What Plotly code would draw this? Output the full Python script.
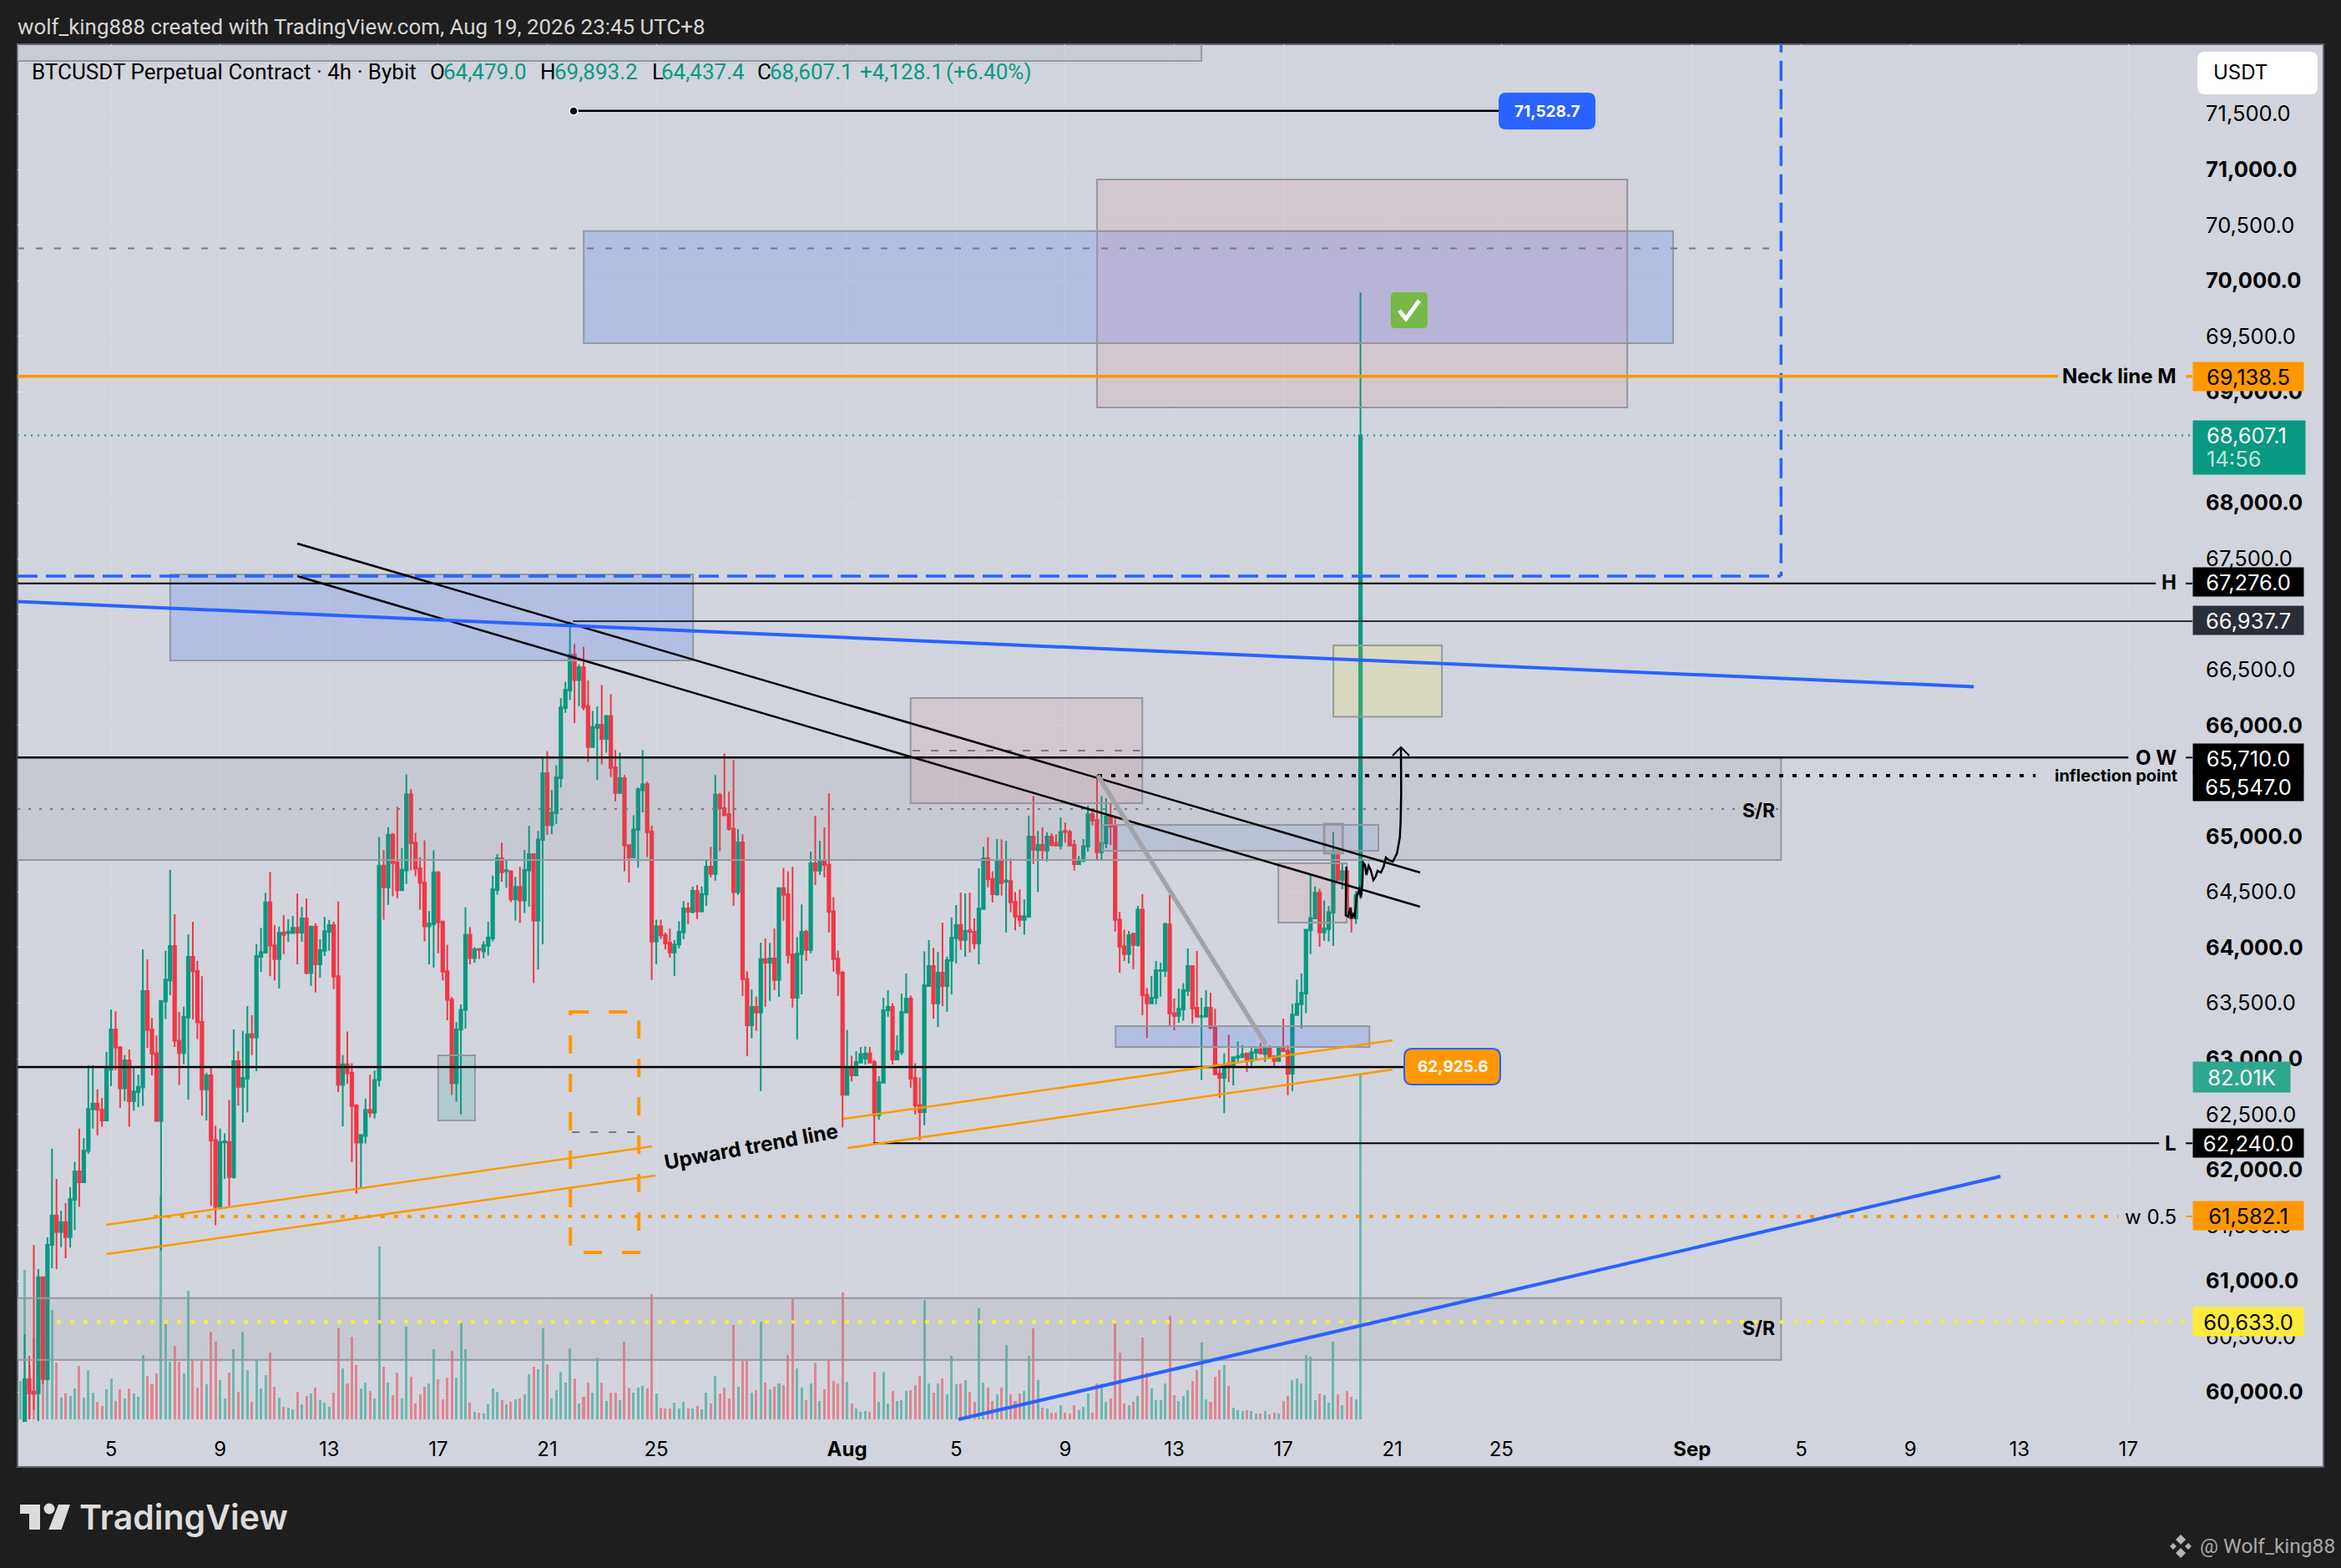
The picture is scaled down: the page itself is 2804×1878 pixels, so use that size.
import pandas as pd
import plotly.graph_objects as go

# BTCUSDT 4h candles, first bar is Jul 1 16:00
opens = [None,59741,60119,60005,59991,61034,60119,61326,61590,61443,61530,61396,61731,61986,61889,62171,62546,62597,62543,62446,
62902,63264,63103,62734,62985,62620,62700,62741,63609,63264,63049,62442,63515,63706,64015,63163,63052,63371,63918,63790,
63331,62724,62851,62271,61668,62248,62251,61936,62979,62747,62821,63220,63193,63918,63954,64407,64021,63897,64135,64132,
64132,64179,64135,64263,63773,64189,63850,63971,64142,64203,63743,62767,62950,62873,62581,62246,62306,62541,62514,62809,
64737,64543,65015,64767,64516,64694,65381,64945,64714,64586,64191,64211,64677,64234,63788,63533,62782,63262,63440,64117,
63906,63989,63966,64016,64083,64519,64804,64687,64687,64435,64546,64425,64694,64841,64244,64968,65569,65103,65210,65525,
66155,66313,66635,66407,66521,66172,65804,65978,66005,65877,66082,65622,65391,65525,64922,64811,65059,65415,65471,65046,
64057,64191,64112,64045,63957,64029,64137,64353,64322,64510,64327,64478,64728,64663,65374,65254,65201,65071,64500,64946,
63719,63301,63466,63416,63897,63864,63902,63709,64535,64480,63939,63549,63942,64142,63979,64758,64693,64773,64748,64327,
63902,63774,62677,62918,62850,62965,63000,63048,62970,62492,62785,63436,63466,62993,63060,63416,63541,62828,62585,62520,
63654,63834,63499,63774,63654,63882,64085,64202,64070,64155,64142,64037,64348,64803,64618,64480,64788,64593,64598,64413,
64283,64250,64277,64999,64876,64923,64871,64999,64943,64919,65051,65041,64923,64751,64783,64908,65199,65149,64858,64938,
65181,65094,64252,64012,63942,64125,64024,64342,63576,63499,63549,63792,63792,64210,63411,63386,63444,63611,63834,63459,
63379,63379,63459,63286,62865,62828,62948,62935,63010,63015,63048,62980,63055,63085,63043,63098,63023,62980,63106,63073,
62865,63393,63491,63586,64155,64262,64493,64137,64167,64315,64836,64608,64688,64287,64262,64479]
highs = [None,60522,60327,61326,61108,61035,61393,62191,61919,61634,61701,61845,62073,62372,62288,62942,62942,62724,62647,63063,
63445,63428,63113,63032,63083,62918,62858,63985,63894,63368,63210,63525,63971,64699,64300,63421,63468,64119,64233,63881,
63743,62875,62918,62399,62372,62328,62627,63264,63069,63250,63472,63391,64032,64179,64494,64682,64203,64189,64293,64256,
64286,64487,64367,64444,64189,64219,64075,64276,64249,64233,64414,63032,63245,62960,62591,62323,62642,62856,62893,64995,
64878,65083,65032,65267,64895,65559,65425,65032,64814,64965,64328,64875,64687,64244,64026,63554,63329,63490,64362,64184,
64006,63989,64057,64234,64647,64841,64945,64784,64697,64637,64727,64878,65096,64841,65049,65710,65767,65418,65639,66246,
66390,66933,66732,66548,66705,66404,66129,66169,66363,66095,66280,65777,65753,65552,64922,65190,65441,65777,65492,65099,
64251,64251,64137,64170,64067,64237,64418,64405,64548,64563,64550,64793,64906,65552,65394,65747,65402,65690,65064,65019,
63787,63624,63561,64045,64082,64042,64170,64540,64718,64688,64726,64095,64388,64162,64863,65184,64961,65081,65387,64455,
63974,63792,63261,63028,63068,63106,63111,63106,62990,62843,63549,63616,63501,63211,63586,63767,63569,62960,62830,63967,
64067,64000,63962,64225,63919,64270,64383,64495,64488,64495,64262,64713,64906,64994,64688,64976,64974,64961,64801,64500,
64523,64433,65189,65364,65049,65081,65039,65029,65019,65171,65126,65059,64968,64826,64976,65277,65239,65552,65364,65344,
65302,65189,64323,64162,64150,64125,64375,64480,63636,63744,63879,63867,64225,64475,63541,63631,63681,63992,63834,63969,
63549,63616,63594,63449,62948,63048,63216,62948,63156,63123,63048,63098,63085,63141,63116,63123,63023,63106,63361,63122,
63494,63712,63767,64162,64663,64550,64530,64425,64375,65039,64863,64751,64688,64363,64508,69893.2]
lows = [None,59741,59756,59840,59741,60075,60105,61115,61108,61305,61205,61302,61460,61668,61889,62147,62372,62311,62388,62446,
62754,62895,62560,62620,62388,62533,62566,62576,63099,62851,62442,61275,63358,63572,63106,62764,62952,62633,63354,63177,
62489,62446,61678,61503,61661,61922,61661,61922,62580,62429,62519,63032,62888,63783,63954,63743,63706,63633,63941,64052,
64125,63850,64052,63760,63656,63596,63730,63924,63971,63626,62700,62392,62776,62072,61787,61844,62239,62474,62464,62752,
64251,64385,64462,64445,64516,64573,64694,64643,64342,64057,63849,63822,63949,63705,63346,62675,62615,62501,63272,63849,
63865,63896,63906,63929,64057,64476,64593,64539,64409,64244,64224,64311,64368,63681,63802,64030,65016,65022,65113,65441,
66112,66229,66021,66172,66135,65669,65804,65508,65649,65753,65535,65317,65391,64687,64586,64811,64720,65217,64814,63708,
63849,64077,63985,63912,63746,63992,64075,64210,64307,64257,64317,64378,64630,64603,64868,65184,65051,64378,64475,63566,
63023,63183,63251,62710,63466,63521,63616,63556,64242,63857,63461,63173,63579,63882,63949,64563,64655,64630,64137,63784,
63566,62384,62677,62797,62850,62960,62948,62960,62234,62452,62785,63378,62948,62993,63035,63411,62740,62497,62269,62402,
63654,63361,63286,63474,63424,63579,63857,63979,63917,63957,63987,63849,64348,64543,64405,64463,64468,64137,64317,64155,
64187,64117,64277,64751,64500,64798,64776,64913,64913,64883,64945,64919,64693,64743,64768,64863,65100,64796,64788,64893,
64923,64145,63774,63879,63857,63807,64007,63393,63186,63499,63491,63561,63737,63286,63256,63323,63343,63566,63318,63379,
62810,63379,63266,62860,62647,62510,62790,62760,62960,63015,62880,62915,62998,63048,62973,62998,62935,62980,63068,62672,
62710,63393,63273,63411,63942,64262,64007,64062,64055,64017,64608,64525,64287,64137,64212,64437.4]
closes = [None,60116,59991,59985,61034,60119,61326,61590,61443,61530,61396,61738,61986,61889,62174,62549,62597,62540,62446,62908,
63264,63103,62734,62985,62620,62707,62747,63609,63260,63046,62442,63519,63713,64015,63163,63052,63378,63918,63787,63327,
62724,62851,62264,61668,62251,62258,61936,62979,62747,62828,63220,63193,63924,63958,64407,64018,63897,64135,64115,64142,
64179,64135,64263,63773,64189,63850,63978,64149,64203,63740,62767,62950,62869,62575,62246,62313,62541,62514,62809,64737,
64543,65015,64761,64516,64700,65381,64938,64710,64583,64191,64217,64677,64228,63782,63530,62782,63265,63440,64117,63906,
63983,63979,64023,64090,64526,64804,64677,64697,64435,64546,64425,64700,64841,64244,64972,65569,65103,65217,65532,66162,
66320,66635,66407,66521,66162,65804,65985,66005,65877,66082,65616,65391,65525,64918,64811,65062,65425,65471,65039,64057,
64191,64110,64037,63957,64029,64142,64353,64322,64510,64327,64483,64728,64663,65377,65251,65191,65069,64500,64946,63716,
63301,63466,63416,63897,63864,63902,63709,64535,64475,63932,63549,63947,64142,63979,64758,64693,64773,64743,64322,63897,
63769,62677,62918,62850,62970,63043,63048,62965,62492,62790,63436,63466,62993,63068,63421,63541,62820,62580,62520,63661,
63834,63499,63774,63654,63887,64090,64202,64070,64150,64142,64037,64353,64803,64618,64480,64788,64580,64605,64408,64280,
64250,64283,64999,64881,64923,64876,64999,64921,64919,65041,65041,64919,64751,64791,64913,65199,65144,64858,64943,65181,
65089,64250,64007,63942,64112,64024,64342,63574,63499,63549,63797,63797,64212,63409,63386,63449,63616,63834,63454,63379,
63384,63459,63281,62860,62828,62948,62935,63015,63023,63040,62980,63060,63085,63048,63098,63015,62980,63106,63068,62865,
63398,63494,63594,64162,64267,64493,64137,64170,64320,64836,64608,64688,64287,64262,64473,68607.1]

# volume in thousands, same bars
volumes = [9.2,35.5,13,19.3,13,9.8,10,26,13.4,5.2,6.2,5.5,7.4,12.7,5.2,11.8,6.4,4.2,3.2,7.1,
9.8,4.4,7.1,5,7.4,6.2,5.4,15.2,10.3,8.4,11,53.3,22.6,13.6,17.4,13.6,11,30.5,14.3,7.6,
13.8,8.4,20.8,18.4,9.4,5,11.1,16.6,6.6,20.8,11.8,4.2,14,7.4,10.5,15.8,7.8,5.2,3,2.7,
2.4,6.6,3.6,5.5,6.2,7.6,4.5,4,3,6.3,21.6,12.1,8.6,19.7,12.9,7.3,8.7,6.8,4.9,41,
12.5,8.7,5.8,11.1,4.9,22.1,10.1,3.7,6,7.7,8.5,16.7,9.5,4.7,9.9,16.3,9.9,23.1,16.7,3.9,
1.7,1.5,1.3,3.5,7.3,6.5,4.5,3.5,4.1,4.7,4.9,5.9,10.7,12.5,11.9,21.7,13.1,4.9,6.9,11.3,
8.7,16.9,9.7,3.7,5.3,8.7,6.3,14.7,8.7,4.3,6.3,6.3,4.5,18.5,7.5,6.3,7.5,7.9,7.3,29.7,
6.1,2.7,2.5,2.5,3.9,2.5,4.1,2.5,2.5,3.1,2.3,6.3,3.7,10.3,6.1,7.5,4.9,22.5,7.7,13.9,
13.9,6.3,6.9,23.3,8.7,7.1,7.7,8.5,8.1,15.3,28.7,12.1,7.5,4.5,8.5,13.5,4.3,7.1,14.1,9.1,
8.5,30.1,8.9,3.7,2.5,1.7,1.9,1.7,11.3,4.1,11.3,3.7,6.7,4.3,4.5,6.7,6.9,8.1,10.3,28.3,
8.5,6.3,8.5,9.7,5.9,15.1,8.3,8.5,9.3,6.5,4.1,26.5,8.7,7.5,4.3,5.9,7.5,17.7,5.9,4.3,
6.1,6.7,15.1,21.7,9.3,2.7,2.5,1.5,1.5,3.3,1.5,1.3,3.3,2.1,2.9,6.1,1.5,8.5,8.5,4.1,
4.9,23.1,15.9,3.7,3.3,4.1,5.5,19.5,11.1,7.3,4.5,4.5,8.5,24.7,5.7,4.3,5.5,6.9,9.1,11.7,
18.3,4.7,4.1,10.1,11.7,12.9,7.9,2.7,2.1,1.9,2.1,1.9,1.3,1.3,1.9,1.1,1.5,1.3,4.3,5.5,
9.3,9.7,8.5,15.3,14.9,4.5,6.1,5.7,3.9,18.5,5.9,3.3,6.7,5.3,4.7,82.01]

# price scale and time scale, 65,500 and 68,500 sit fully behind price tags
price_ticks = [60000,60500,61000,61500,62000,62500,63000,63500,64000,64500,65000,66000,66500,67000,67500,68000,69000,69500,70000,70500,71000,71500]
time_ticks = ["2026-07-05","2026-07-09","2026-07-13","2026-07-17","2026-07-21","2026-07-25","2026-08-01","2026-08-05","2026-08-09","2026-08-13","2026-08-17","2026-08-21","2026-08-25","2026-09-01","2026-09-05","2026-09-09","2026-09-13","2026-09-17"]
time_labels = ["5","9","13","17","21","25","<b>Aug</b>","5","9","13","17","21","25","<b>Sep</b>","5","9","13","17"]

# drawings: [start day, end day, price a, price b], day 0 = Jul 1
blue_zones = [[21.34,61.30,70446,69438],[6.17,25.35,67357,66584],[40.85,50.16,63294,63106]]
pink_zones = [[40.17,59.62,70910,68859],[33.33,41.83,66246,65299],[46.82,49.33,64758,64225]]
sr_zones = [[0.57,65.26,65710,64788],[0.57,65.26,60848,60292]]
trend_black = [[10.83,52.02,67635,64676],[10.83,52.02,67342,64368]]
trend_orange = [[3.82,23.85,61506,62212],[3.84,23.97,61243,61949],[30.86,51.01,62460,63166],[31.01,51.01,62197,62903]]
trend_blue = [[0.57,72.33,67114,66347],[35.09,73.31,59756,61942]]

BG = "#d1d4dc"
DARK = "#1e1e1e"
GREEN = "#089981"
RED = "#f23645"
BLUE = "#2962ff"
ORANGE = "#ff9800"
BORDER = "#9598a1"
FONT = "Inter"

# plot area inside the 2804x1878 page
L, R, T, B = 21, 2626, 53, 1710


def day(d):
    return (pd.Timestamp("2026-07-01") + pd.Timedelta(days=d)).strftime("%Y-%m-%d %H:%M")


def px(x):
    return (x - L) / (R - L)


def py(y):
    return (B - y) / (B - T)


def seg(d0, d1, p0, p1, color="black", width=2, dash="solid"):
    return dict(type="line", xref="x", yref="y", x0=day(d0), x1=day(d1), y0=p0, y1=p1,
                line=dict(color=color, width=width, dash=dash))


def zone(z, fill, border=BORDER, width=2):
    return dict(type="rect", xref="x", yref="y", x0=day(z[0]), x1=day(z[1]), y0=z[2], y1=z[3],
                fillcolor=fill, line=dict(color=border, width=width))


def rounded(x0, y0, x1, y1, r, fill, border=None, width=0):
    a, b, c, d = px(x0), px(x1), py(y0), py(y1)
    rx, ry = r / (R - L), r / (B - T)
    path = (f"M {a+rx} {c} L {b-rx} {c} Q {b} {c} {b} {c-ry} L {b} {d+ry} Q {b} {d} {b-rx} {d} "
            f"L {a+rx} {d} Q {a} {d} {a} {d+ry} L {a} {c-ry} Q {a} {c} {a+rx} {c} Z")
    return dict(type="path", xref="paper", yref="paper", path=path, fillcolor=fill,
                line=dict(color=border or fill, width=width))


def polyline(points, color="black", width=2, fill=None):
    path = "M " + " L ".join(f"{px(x)} {py(y)}" for x, y in points)
    if fill:
        path += " Z"
    return dict(type="path", xref="paper", yref="paper", path=path, fillcolor=fill,
                line=dict(color=color, width=width))


def text(x, y, s, size=24, color="black", anchor="left", family=FONT, angle=0, weight=None):
    return dict(xref="paper", yref="paper", x=px(x), y=py(y), text=s, showarrow=False, xanchor=anchor,
                yanchor="middle", textangle=angle, font=dict(size=size, color=color, family=family, weight=weight))


def badge(y, label, fill, color="white", w=132):
    return dict(xref="paper", yref="paper", x=1, y=py(y), text=label, showarrow=False, xanchor="left", yanchor="middle",
                width=w, height=34, bgcolor=fill, align="center", borderpad=0, font=dict(size=25.5, color=color, family=FONT))


dates = pd.date_range("2026-07-01 16:00", periods=len(closes), freq="4h")
vol_colors = ["rgba(8,153,129,0.5)" if (c is None or c >= o) else "rgba(242,54,69,0.5)" for o, c in zip(opens, closes)]

fig = go.Figure()
fig.add_trace(go.Bar(x=dates, y=volumes, yaxis="y2", width=8000000, marker=dict(color=vol_colors, line=dict(width=0)), hoverinfo="skip"))
fig.add_trace(go.Candlestick(
    x=dates, open=opens, high=highs, low=lows, close=closes, yaxis="y", hoverinfo="skip",
    increasing=dict(line=dict(color=GREEN, width=2), fillcolor=GREEN),
    decreasing=dict(line=dict(color=RED, width=2), fillcolor=RED),
))

shapes = []

# --- panel pieces outside the plot area ---
shapes.append(dict(type="rect", xref="paper", yref="paper", x0=px(R), x1=px(2783), y0=py(53), y1=py(1757), fillcolor=BG, line=dict(width=0), layer="below"))
shapes.append(dict(type="rect", xref="paper", yref="paper", x0=px(21), x1=px(2783), y0=py(1710), y1=py(1757), fillcolor=BG, line=dict(width=0), layer="below"))
shapes.append(dict(type="rect", xref="paper", yref="paper", x0=px(21), x1=px(2783), y0=py(53), y1=py(1757), line=dict(color="#62656e", width=2), layer="below"))

# --- zones ---
shapes.append(zone([0.57, 44.0, 73000, 71976], "rgba(120,123,134,0.1)"))
for z in sr_zones:
    shapes.append(zone(z, "rgba(120,123,134,0.12)"))
for z in blue_zones:
    shapes.append(zone(z, "rgba(41,98,255,0.18)"))
for z in pink_zones:
    shapes.append(zone(z, "rgba(242,54,69,0.08)"))
shapes.append(zone([16.0, 17.35, 63031, 62445], "rgba(8,153,129,0.16)"))
shapes.append(zone([40.36, 50.49, 65104, 64871], "rgba(41,98,255,0.08)"))
shapes.append(zone([48.50, 49.18, 65111, 64849], "rgba(242,54,69,0.06)", width=3))
shapes.append(zone([48.84, 52.82, 66719, 66077], "rgba(255,235,59,0.16)"))
shapes.append(dict(type="rect", xref="x", yref="y", x0=day(20.85), x1=day(23.36), y0=63421, y1=61258,
                   line=dict(color=ORANGE, width=4, dash="22px,24px")))

# --- dashed and dotted levels ---
shapes.append(seg(0.57, 65.26, 70290, 70290, "#787b86", 2, "8px,14px"))
shapes.append(seg(0.57, 65.26, 65247, 65247, "#787b86", 2, "3px,10px"))
shapes.append(seg(33.4, 41.75, 65772, 65772, "#787b86", 2, "9px,13px"))
shapes.append(seg(20.91, 23.26, 62340, 62340, "#787b86", 2, "9px,13px"))
shapes.append(seg(0.57, 80.35, 68607.1, 68607.1, GREEN, 2, "2px,6px"))
shapes.append(seg(5.56, 77.63, 61582.1, 61582.1, ORANGE, 4, "5px,11px"))
shapes.append(seg(2.01, 80.33, 60633, 60633, "#ffeb3b", 4, "5px,11px"))
shapes.append(seg(40.2, 74.6, 65547, 65547, "black", 4, "5px,11px"))
shapes.append(seg(0.57, 65.26, 67342, 67342, BLUE, 3.5, "24px,10px"))
shapes.append(seg(65.26, 65.26, 73000, 67342, BLUE, 3.5, "24px,10px"))

# --- solid levels, each with the short stub next to the scale ---
shapes.append(seg(0.57, 75.42, 69138.5, 69138.5, ORANGE, 3.5))
shapes.append(seg(80.11, 80.35, 69138.5, 69138.5, ORANGE, 3.5))
shapes.append(seg(0.57, 79.01, 67276, 67276, "black", 2))
shapes.append(seg(80.11, 80.35, 67276, 67276, "black", 2))
shapes.append(seg(20.94, 80.35, 66937.7, 66937.7, "#2a2e39", 2))
shapes.append(seg(0.57, 78.0, 65710, 65710, "black", 2.5))
shapes.append(seg(80.11, 80.35, 65710, 65710, "black", 2))
shapes.append(seg(0.57, 51.47, 62925.6, 62925.6, "black", 2.5))
shapes.append(seg(31.96, 79.13, 62240, 62240, "black", 2))
shapes.append(seg(80.11, 80.35, 62240, 62240, "black", 2))
shapes.append(seg(80.11, 80.35, 61582.1, 61582.1, ORANGE, 2))
shapes.append(seg(20.94, 54.93, 71528.7, 71528.7, "black", 2.5))

# --- trend lines ---
for t in trend_black:
    shapes.append(seg(t[0], t[1], t[2], t[3], "black", 2.5))
for t in trend_orange:
    shapes.append(seg(t[0], t[1], t[2], t[3], ORANGE, 2.5))
for t in trend_blue:
    shapes.append(seg(t[0], t[1], t[2], t[3], BLUE, 4))
shapes.append(seg(40.2, 46.36, 65547, 63129, "#a3a3a8", 5.5))

# hand drawn path and arrow near the last bars
squiggle = [(1612.7, 1038), (1612, 1096), (1615, 1098), (1617.3, 1087), (1618.7, 1100), (1620.7, 1095), (1622.7, 1098),
            (1625, 1073), (1628.3, 1065), (1630, 1075), (1631.7, 1060), (1632.7, 1033), (1635, 1036), (1636.7, 1048),
            (1639.3, 1037), (1641.7, 1042), (1645, 1054), (1647.7, 1050), (1650, 1043), (1654, 1045), (1657.3, 1038),
            (1660, 1027), (1663.3, 1030), (1668.3, 1032), (1673.3, 1022), (1676.7, 1003), (1677.7, 983), (1678.3, 950), (1678, 895)]
shapes.append(polyline(squiggle, "black", 2.5))
shapes.append(polyline([(1668, 905), (1678, 895), (1688, 905)], "black", 2))

# dot at the start of the price line and the two floating price tags
shapes.append(dict(type="circle", xref="paper", yref="paper", x0=px(682), x1=px(692), y0=py(128), y1=py(138), fillcolor="black", line=dict(color="white", width=1.5)))
shapes.append(rounded(1795, 111, 1911, 155, 9, BLUE))
shapes.append(rounded(1682, 1256, 1797, 1299, 10, ORANGE, BLUE, 2))

# green check box
shapes.append(rounded(1666, 350, 1710, 393, 5, "#76b947"))
shapes.append(polyline([(1676, 372), (1684, 382), (1700, 360)], "white", 5))

# USDT button
shapes.append(rounded(2632, 62, 2776, 113, 9, "white"))

# TradingView logo
shapes.append(polyline([(24, 1802), (48, 1802), (48, 1832), (35, 1832), (35, 1813), (24, 1813)], "#dcdcdc", 0, "#dcdcdc"))
shapes.append(dict(type="circle", xref="paper", yref="paper", x0=px(52.5), x1=px(65.5), y0=py(1800.5), y1=py(1813.5), fillcolor="#dcdcdc", line=dict(width=0)))
shapes.append(polyline([(70, 1802), (84, 1802), (73.6, 1832), (58.2, 1832)], "#dcdcdc", 0, "#dcdcdc"))

# small diamond mark in front of the watermark
for cx, cy, r in [(2612, 1844, 6), (2603, 1852, 4), (2621, 1852, 4), (2612, 1860, 6)]:
    shapes.append(polyline([(cx - r, cy), (cx, cy - r), (cx + r, cy), (cx, cy + r)], "#b5b5b5", 0, "#b5b5b5"))

annotations = [
    text(19, 32, "wolf_king888 created with TradingView.com, Aug 19, 2026 23:45 UTC+8", 25.9, "#d6d6d6", family="Roboto"),
    text(93, 1817, "TradingView", 41, "#dcdcdc", weight=600),
    text(2633, 1852, "@ Wolf_king88", 24.5, "#a9a9a9", family="Roboto"),
    text(2649, 87, "USDT", 24),
    text(36, 86, "BTCUSDT Perpetual Contract · 4h · Bybit", 26, family="Roboto"),
    text(1853, 133, "<b>71,528.7</b>", 19, "white", "center"),
    text(1740, 1277, "<b>62,925.6</b>", 19, "white", "center"),
    text(899, 1373, "<b>Upward trend line</b>", 24.5, angle=-10.5, anchor="center"),
    text(2609, 451, "<b>Neck line M</b>", 24, anchor="right"),
    text(2609, 697, "<b>H</b>", 24, anchor="right"),
    text(2609, 907, "<b>O W</b>", 24, anchor="right"),
    text(2610, 929, "<b>inflection point</b>", 20, anchor="right"),
    text(2609, 1369, "<b>L</b>", 24, anchor="right"),
    text(2609, 1457, "w 0.5", 24, anchor="right"),
    text(2106, 971, "<b>S/R</b>", 23, anchor="center"),
    text(2106, 1591, "<b>S/R</b>", 23, anchor="center"),
]

# OHLC header, letters black and values green
for x, s, c in [(513, "O", "black"), (529, "64,479.0", GREEN), (645, "H", "black"), (662, "69,893.2", GREEN),
                (779, "L", "black"), (790, "64,437.4", GREEN), (905, "C", "black"), (920, "68,607.1", GREEN),
                (1028, "+4,128.1", GREEN), (1131, "(+6.40%)", GREEN)]:
    annotations.append(text(x, 86, s, 26, c, family="Roboto"))

# badges on the price scale, pixel rows as labels get pushed apart by the scale
annotations += [
    badge(451, "69,138.5", ORANGE, "black"),
    badge(697, "67,276.0", "black"),
    badge(743, "66,937.7", "#2a2e39"),
    badge(942, "65,547.0", "black"),
    badge(908, "65,710.0", "black"),
    badge(1369, "62,240.0", "black"),
    badge(1456, "61,582.1", ORANGE, "black"),
    badge(1583, "60,633.0", "#ffeb3b", "black"),
]
annotations.append(dict(xref="paper", yref="paper", x=1, y=py(536), text=" ", showarrow=False, xanchor="left", yanchor="middle",
                        width=132, height=62, bgcolor=GREEN))
annotations.append(text(2641, 521, "68,607.1", 25.5, "white"))
annotations.append(text(2641, 549, "14:56", 25.5, "#bfe3dc"))
annotations.append(dict(xref="paper", yref="paper", x=1, y=py(1290), text="82.01K", showarrow=False, xanchor="left", yanchor="middle",
                        width=114, height=34, bgcolor="#2ea78f", align="center", font=dict(size=25.5, color="white", family=FONT)))

fig.update_layout(
    width=2804, height=1878, autosize=False,
    margin=dict(l=L, r=2804 - R, t=T, b=1878 - B, pad=0),
    paper_bgcolor=DARK, plot_bgcolor=BG,
    showlegend=False, hovermode=False, boxgap=0.15, bargap=0,
    shapes=shapes, annotations=annotations,
    xaxis=dict(type="date", range=[day(0.57), day(80.35)], rangeslider=dict(visible=False),
               tickvals=time_ticks, ticktext=time_labels, ticks="outside", ticklen=4, tickcolor=BG,
               showgrid=True, gridcolor="#d7d9e1", gridwidth=1, zeroline=False, showline=False,
               tickfont=dict(family=FONT, size=24, color="black")),
    yaxis=dict(range=[59681, 72127], side="right", overlaying="y2", tickvals=price_ticks,
               ticktext=[f"<b>{p:,.1f}</b>" if p % 1000 == 0 else f"{p:,.1f}" for p in price_ticks],
               ticks="outside", ticklen=10, tickcolor=BG, showgrid=True, gridcolor="#d7d9e1", gridwidth=1,
               zeroline=False, showline=False, tickfont=dict(family=FONT, size=25.5, color="black")),
    yaxis2=dict(range=[-1.99, 327], visible=False, showgrid=False, zeroline=False),
)

fig.write_html("out.html", config={"displayModeBar": False}, post_script="document.body.style.margin='0';document.body.style.overflow='hidden';")
